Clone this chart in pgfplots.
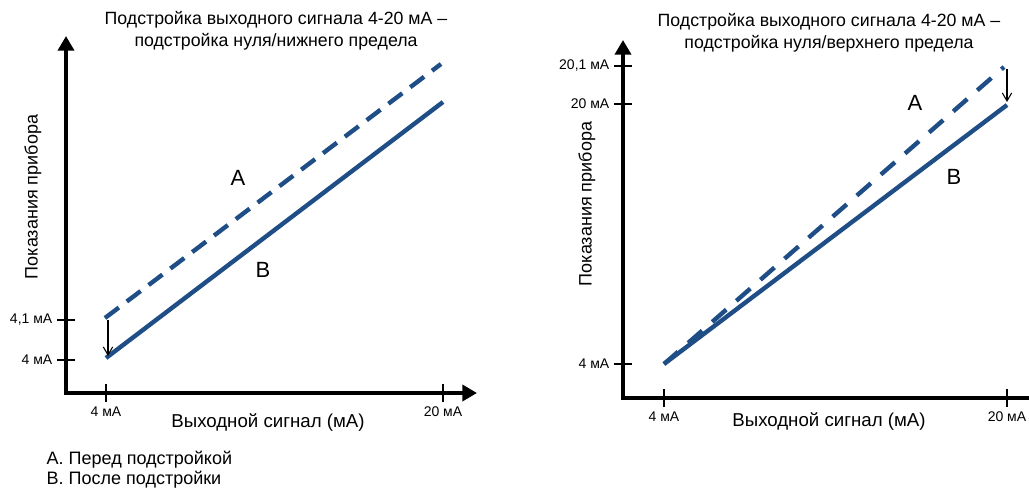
\documentclass[border=0pt]{standalone}
\usepackage{fontspec}
\setmainfont{Liberation Sans}
\usepackage{pgfplots}
\pgfplotsset{compat=1.18}
\usetikzlibrary{arrows.meta}
\definecolor{lineblue}{RGB}{31,78,135}
\pgfplotsset{
  schem/.style={
    anchor=south west,
    x=0.75pt, y=0.75pt,
    axis lines=left,
    clip=false,
    axis line style={line width=3.6pt, black, line cap=rect, -{Triangle[length=11pt,width=12pt]}},
    every outer x axis line/.append style={-{Triangle[length=11pt,width=12pt]}},
    every outer y axis line/.append style={-{Triangle[length=11pt,width=12pt]}},
    tick align=center,
    major tick length=13.5pt,
    tick style={line width=2.1pt, black},
    tick label style={font=\fontsize{10.5}{12}\selectfont},
    xlabel style={font=\fontsize{14}{16}\selectfont},
    ylabel style={font=\fontsize{13.5}{16}\selectfont},
  },
  lineB/.style={lineblue, line width=3.3pt},
  lineA/.style={lineblue, line width=3.3pt},
}
\begin{document}
\begin{tikzpicture}[x=0.75pt,y=0.75pt]
\path[use as bounding box] (0,0) rectangle (1029,487);
% ---------------- left diagram ----------------
\begin{axis}[schem,
  at={(66,94)},
  xmin=66, xmax=477, ymin=94, ymax=451,
  xtick={106,443}, xticklabels={4 мА,20 мА},
  ytick={127,167}, yticklabels={4 мА,{4,1 мА}},
  xlabel={Выходной сигнал (мА)},
  xlabel style={at={(axis cs:268,64)}, anchor=center},
  ylabel={Показания прибора},
  ylabel style={at={(axis cs:33,290)}, anchor=center, rotate=0},
]
\addplot[lineB] coordinates {(106,129) (443,385)};
\addplot[lineA, dash pattern=on 13pt off 7.5pt] coordinates {(105,169) (441,423)};
\addplot[black, line width=0.8pt, -{Straight Barb[length=6pt,width=7pt]}] coordinates {(108,167) (108,131)};
\node[font=\fontsize{16.5}{18}\selectfont] at (axis cs:238,309) {A};
\node[font=\fontsize{16.5}{18}\selectfont] at (axis cs:263,217) {B};
\node[align=center, font=\fontsize{13.3}{16.5}\selectfont] at (axis cs:276,456)
  {Подстройка выходного сигнала 4-20 мА –\\подстройка нуля/нижнего предела};
\end{axis}
% ---------------- right diagram ----------------
\begin{axis}[schem,
  at={(623,89)},
  xmin=623, xmax=1046, ymin=89, ymax=447,
  xtick={664,1007}, xticklabels={4 мА,20 мА},
  ytick={123,383,421}, yticklabels={4 мА,20 мА,{20,1 мА}},
  xlabel={Выходной сигнал (мА)},
  xlabel style={at={(axis cs:829,66)}, anchor=center},
  ylabel={Показания прибора},
  ylabel style={at={(axis cs:587,283)}, anchor=center, rotate=0},
]
\addplot[lineB] coordinates {(664,123) (1007,382)};
\addplot[lineA, dash pattern=on 14pt off 10pt] coordinates {(664,123) (1004,420)};
\addplot[black, line width=0.8pt, -{Straight Barb[length=6pt,width=7pt]}] coordinates {(1007,418) (1007,385)};
\node[font=\fontsize{16.5}{18}\selectfont] at (axis cs:915,384) {A};
\node[font=\fontsize{16.5}{18}\selectfont] at (axis cs:954,310) {B};
\node[align=center, font=\fontsize{13.3}{16.5}\selectfont] at (axis cs:829,454)
  {Подстройка выходного сигнала 4-20 мА –\\подстройка нуля/верхнего предела};
\end{axis}
% ---------------- key ----------------
\node[anchor=base west, font=\fontsize{13.5}{16}\selectfont] at (42,23) {A. Перед подстройкой};
\node[anchor=base west, font=\fontsize{13.5}{16}\selectfont] at (42,3) {B. После подстройки};
\end{tikzpicture}
\end{document}
